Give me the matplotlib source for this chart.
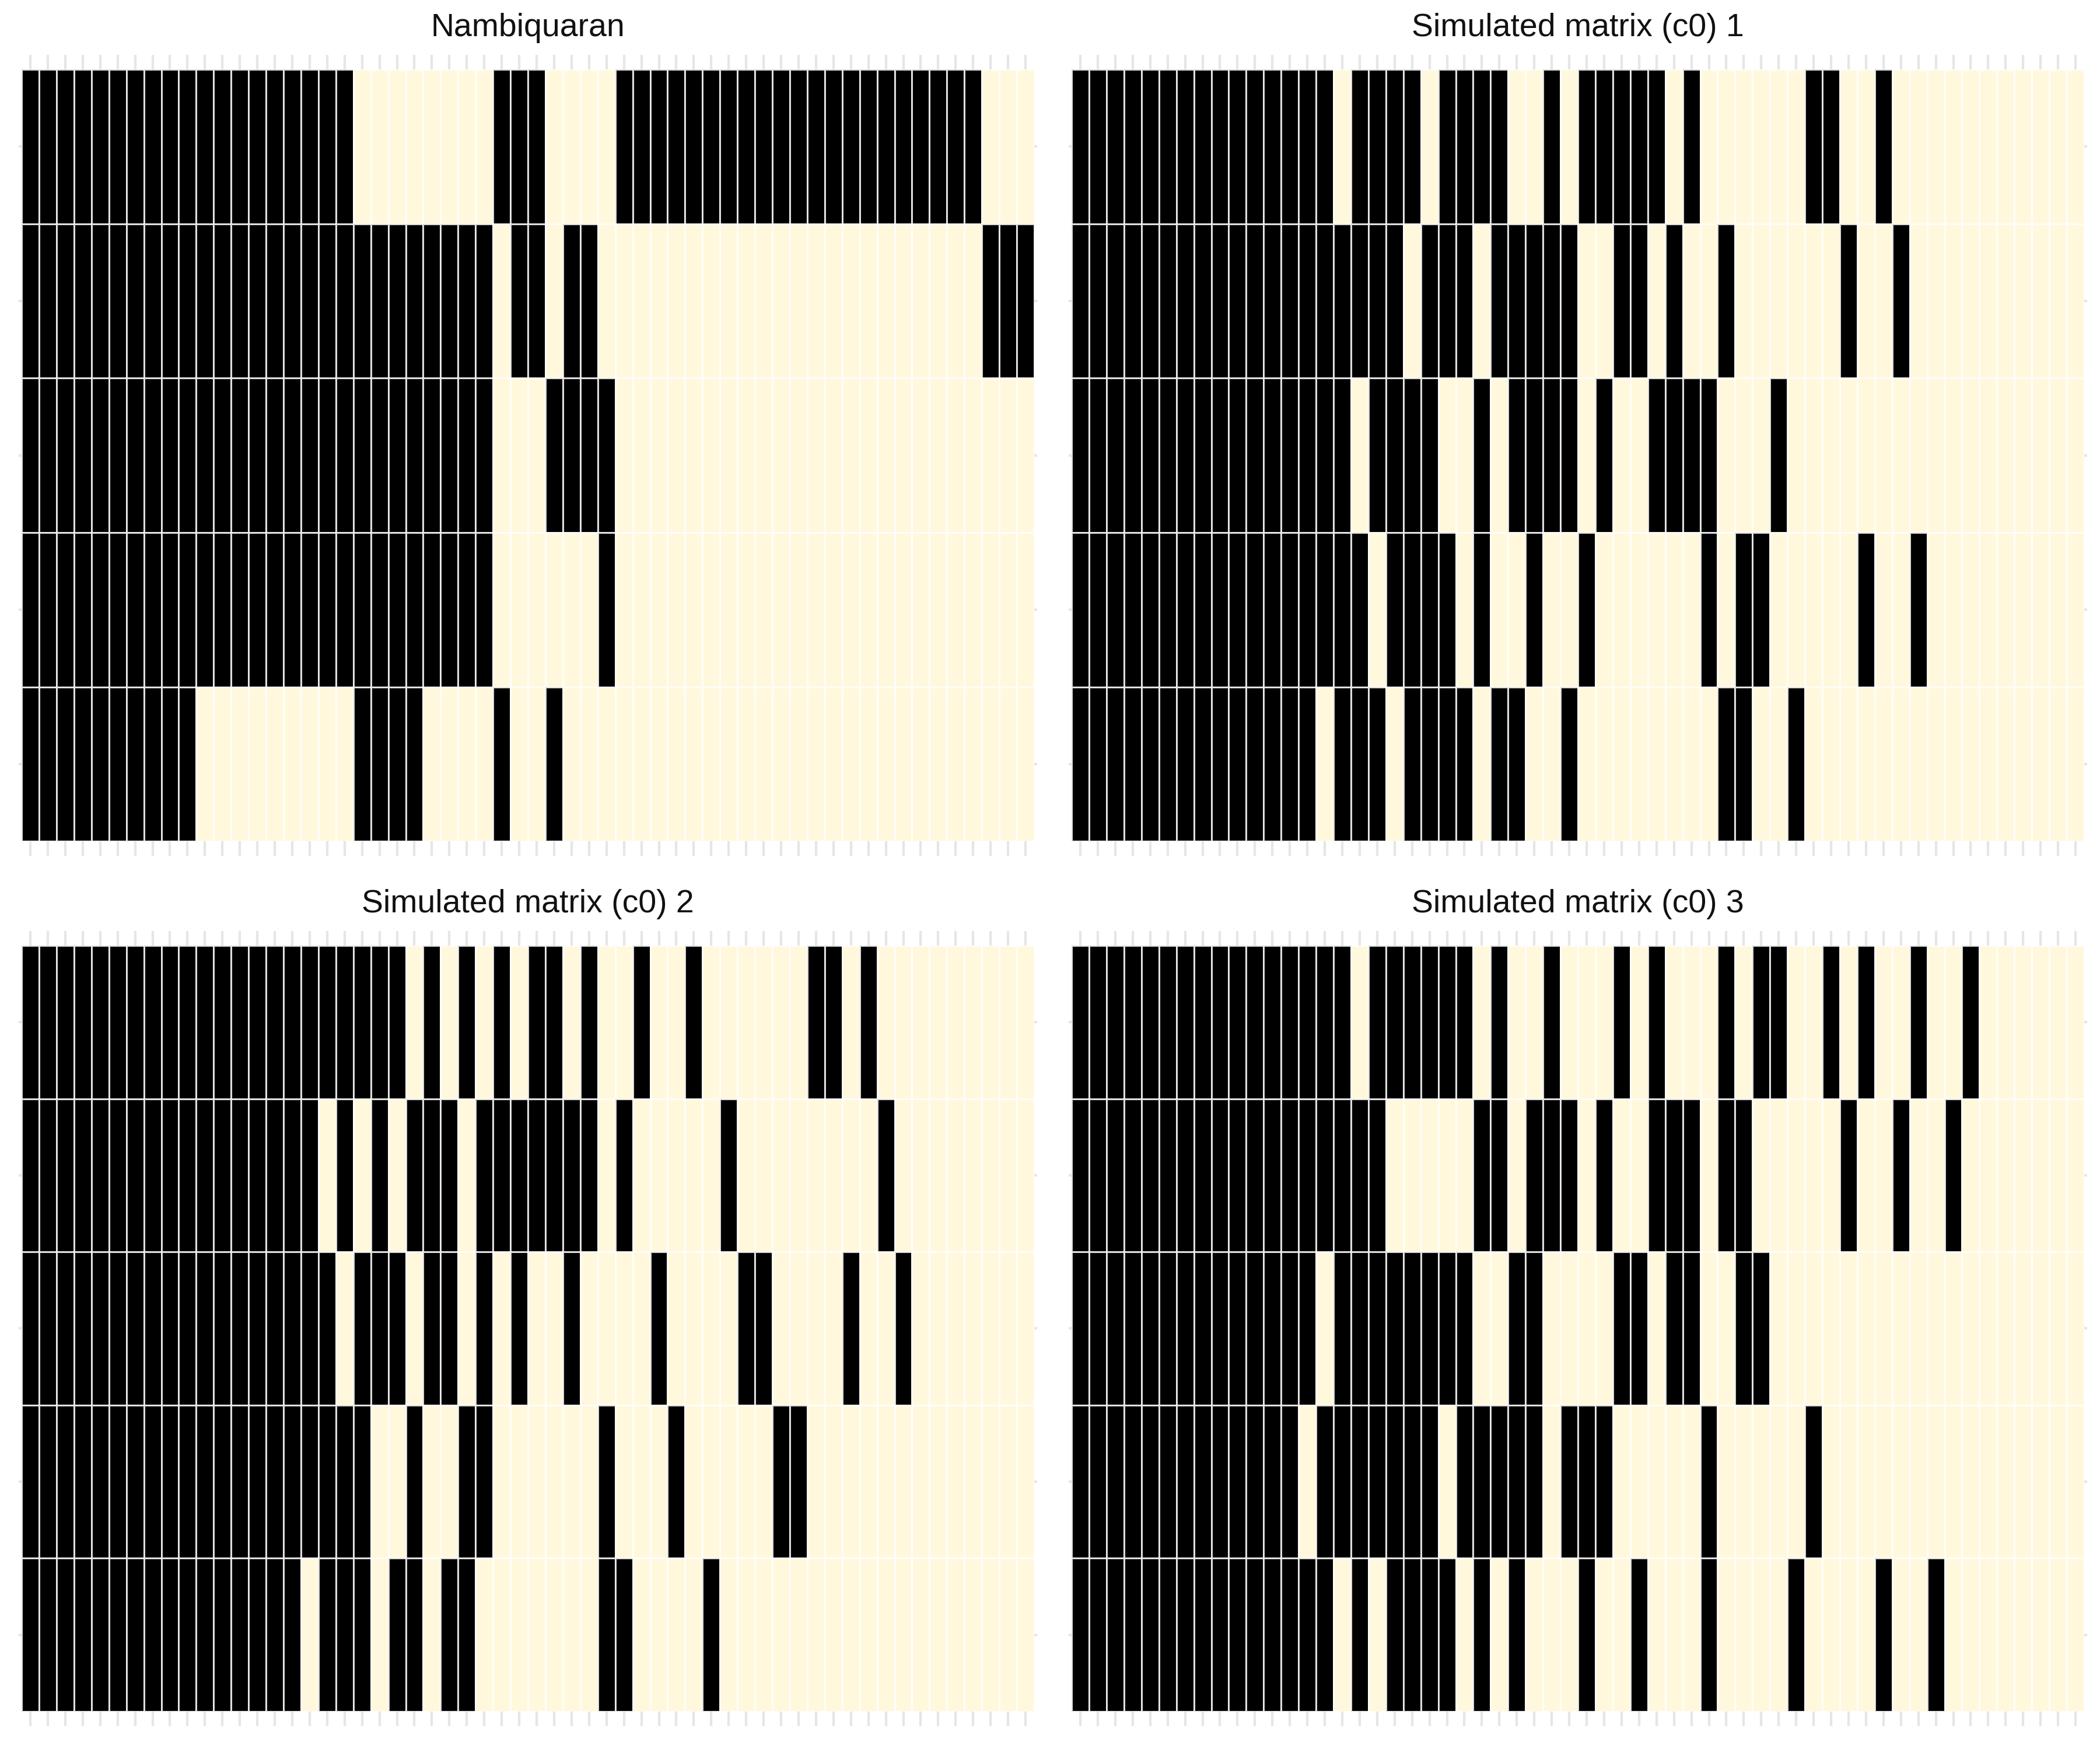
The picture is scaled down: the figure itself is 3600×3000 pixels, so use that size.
import numpy as np
import matplotlib
matplotlib.use("Agg")
import matplotlib.pyplot as plt
from matplotlib.colors import ListedColormap

plt.rcParams['font.family'] = ['Liberation Sans', 'DejaVu Sans']

N_COLS = 58
N_ROWS = 5

titles = ["Nambiquaran", "Simulated matrix (c0) 1",
          "Simulated matrix (c0) 2", "Simulated matrix (c0) 3"]

# Black (state 1) cell runs per row: (first column, last column), inclusive
nambiquaran = [
    [(0, 18), (27, 29), (34, 54)],
    [(0, 26), (28, 29), (31, 32), (55, 57)],
    [(0, 26), (30, 33)],
    [(0, 26), (33, 33)],
    [(0, 9), (19, 22), (27, 27), (30, 30)],
]
sim_1 = [
    [(0, 14), (16, 19), (21, 24), (27, 27), (29, 33), (35, 35), (42, 43), (46, 46)],
    [(0, 18), (20, 22), (24, 28), (31, 32), (34, 34), (37, 37), (44, 44), (47, 47)],
    [(0, 15), (17, 20), (23, 23), (25, 28), (30, 30), (33, 36), (40, 40)],
    [(0, 16), (18, 21), (23, 23), (26, 26), (29, 29), (36, 36), (38, 39), (45, 45), (48, 48)],
    [(0, 13), (15, 17), (19, 22), (24, 25), (28, 28), (37, 38), (41, 41)],
]
sim_2 = [
    [(0, 21), (23, 23), (25, 25), (27, 27), (29, 30), (32, 32), (35, 35), (38, 38), (45, 46), (48, 48)],
    [(0, 16), (18, 18), (20, 20), (22, 24), (26, 32), (34, 34), (40, 40), (49, 49)],
    [(0, 17), (19, 21), (23, 24), (26, 26), (28, 28), (31, 31), (36, 36), (41, 42), (47, 47), (50, 50)],
    [(0, 19), (22, 22), (25, 26), (33, 33), (37, 37), (43, 44)],
    [(0, 15), (17, 19), (21, 22), (24, 25), (33, 34), (39, 39)],
]
sim_3 = [
    [(0, 15), (17, 22), (24, 24), (27, 27), (31, 31), (33, 33), (37, 37), (39, 40), (43, 43), (45, 45), (48, 48), (51, 51)],
    [(0, 17), (23, 24), (26, 28), (30, 30), (33, 35), (37, 38), (44, 44), (47, 47), (50, 50)],
    [(0, 13), (15, 22), (25, 26), (31, 32), (34, 35), (38, 39)],
    [(0, 12), (14, 20), (22, 26), (28, 30), (36, 36), (42, 42)],
    [(0, 14), (16, 16), (18, 21), (23, 23), (25, 25), (29, 29), (32, 32), (36, 36), (41, 41), (46, 46), (49, 49)],
]

matrices_runs = [nambiquaran, sim_1, sim_2, sim_3]


def build(runs):
    m = np.zeros((N_ROWS, N_COLS))
    for r, row in enumerate(runs):
        for a, b in row:
            m[r, a:b + 1] = 1
    return m


cmap = ListedColormap(["#FFF8DC", "#000000"])

fig = plt.figure(figsize=(12, 10), dpi=300)
lefts = [0.0103, 0.5103, 0.0103, 0.5103]
bottoms = [0.5193, 0.5193, 0.0220, 0.0220]
heights = [0.4410, 0.4410, 0.4377, 0.4377]
W = 0.4822

for i in range(4):
    ax = fig.add_axes([lefts[i], bottoms[i], W, heights[i]])
    m = build(matrices_runs[i])
    ax.pcolormesh(np.arange(N_COLS + 1), np.arange(N_ROWS + 1), m,
                  cmap=cmap, vmin=0, vmax=1,
                  edgecolors=(1, 1, 1, 0.85), linewidth=0.26)
    ax.set_xlim(0, N_COLS)
    ax.set_ylim(N_ROWS, 0)
    for s in ax.spines.values():
        s.set_visible(False)
    ax.set_xticks(np.arange(N_COLS) + 0.5)
    ax.set_yticks(np.arange(N_ROWS) + 0.5)
    ax.tick_params(axis="x", which="both", top=True, bottom=True,
                   labeltop=False, labelbottom=False,
                   color="#e6e6e6", length=6, width=1.0, direction="out")
    ax.tick_params(axis="y", which="both", left=True, right=True,
                   labelleft=False, labelright=False,
                   color="#e6e6e6", length=1.2, width=1.0, direction="out")
    ax.text(0.5, 1.0 + 0.043 * 0.4410 / heights[i],
            titles[i], transform=ax.transAxes,
            ha="center", va="baseline", fontsize=13.3, color="#111111")

fig.savefig("out.png", dpi=300)
